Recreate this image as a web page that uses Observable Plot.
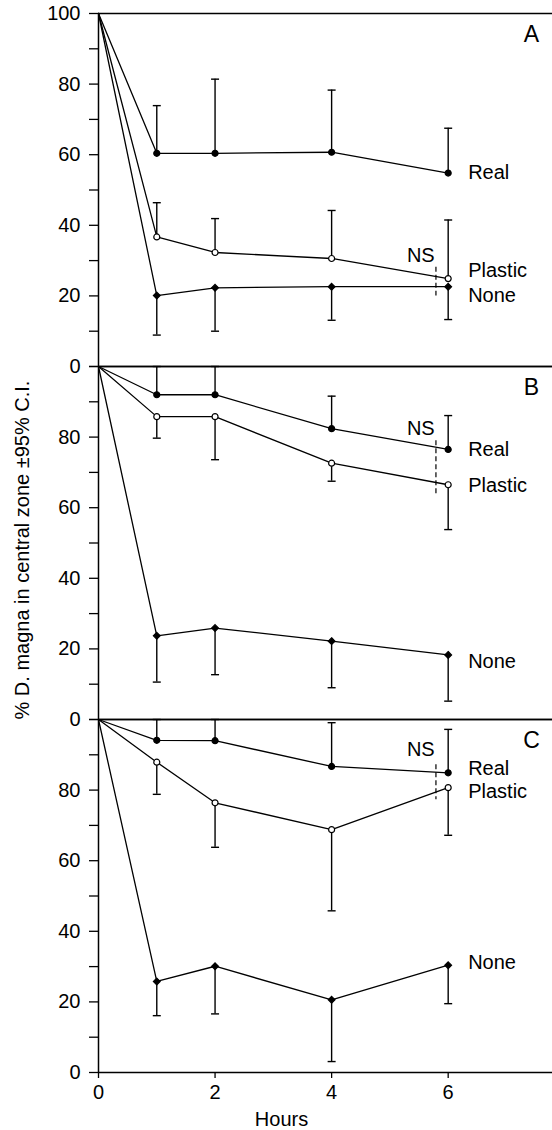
<!DOCTYPE html>
<html><head><meta charset="utf-8">
<script src="https://cdn.jsdelivr.net/npm/d3@7"></script>
<script src="https://cdn.jsdelivr.net/npm/@observablehq/plot@0.6"></script>
<style>body{margin:0;background:#fff;}</style>
</head><body><div id="chart"></div>
<script>
const panels = ["A", "B", "C"];
const seriesNames = ["Real", "Plastic", "None"];
const hours = [0, 1, 2, 4, 6];

// Panel A values and 95% C.I. bar ends
const realA = [100, 60.4, 60.4, 60.7, 54.8];
const realA_ci = [null, 73.9, 81.4, 78.3, 67.5];
const plasticA = [100, 36.7, 32.3, 30.6, 24.9];
const plasticA_ci = [null, 46.4, 41.9, 44.2, 41.5];
const noneA = [100, 20.1, 22.3, 22.6, 22.6];
const noneA_ci = [null, 8.9, 10.0, 13.1, 13.3];

// Panel B
const realB = [100, 92.0, 92.0, 82.4, 76.5];
const realB_ci = [null, 100, 100, 91.6, 86.1];
const plasticB = [100, 85.8, 85.8, 72.6, 66.5];
const plasticB_ci = [null, 79.7, 73.6, 67.5, 53.8];
const noneB = [100, 23.7, 25.9, 22.2, 18.3];
const noneB_ci = [null, 10.6, 12.7, 9.0, 5.2];

// Panel C
const realC = [100, 94.1, 94.0, 86.7, 84.9];
const realC_ci = [null, 100, 100, 99.1, 97.2];
const plasticC = [100, 87.9, 76.4, 68.8, 80.7];
const plasticC_ci = [null, 78.8, 63.8, 45.8, 67.2];
const noneC = [100, 25.8, 30.1, 20.6, 30.4];
const noneC_ci = [null, 16.1, 16.6, 3.1, 19.5];

// series label anchor values (per panel: Real, Plastic, None)
const labelA = [54.8, 27.1, 20.1];
const labelB = [76.4, 66.3, 16.5];
const labelC = [86.1, 79.7, 31.2];

// NS annotations: text position and dashed line extent
const nsTextX = 5.53;
const nsLineX = 5.79;
const nsTextY = [31.4, 82.5, 91.5];
const nsLineY1 = [28.1, 79.0, 87.2];
const nsLineY2 = [20.0, 63.2, 77.3];

// y tick labels per panel
const yTickLabelsA = [100, 80, 60, 40, 20, 0];
const yTickLabelsB = [80, 60, 40, 20, 0];
const yTickLabelsC = [80, 60, 40, 20, 0];
const yTicks = d3.range(0, 101, 10);
const xTicks = [0, 2, 4, 6];

const table = {
  A: {Real: [realA, realA_ci], Plastic: [plasticA, plasticA_ci], None: [noneA, noneA_ci]},
  B: {Real: [realB, realB_ci], Plastic: [plasticB, plasticB_ci], None: [noneB, noneB_ci]},
  C: {Real: [realC, realC_ci], Plastic: [plasticC, plasticC_ci], None: [noneC, noneC_ci]}
};
const rows = [];
for (const p of panels) for (const s of seriesNames) {
  const [vals, ci] = table[p][s];
  hours.forEach((h, i) => rows.push({panel: p, series: s, hour: h, value: vals[i], ci: ci[i]}));
}
const pts = rows.filter(d => d.hour > 0);
const labelRows = [];
[labelA, labelB, labelC].forEach((arr, pi) => seriesNames.forEach((s, si) =>
  labelRows.push({panel: panels[pi], text: s, hour: hours[hours.length - 1], y: arr[si]})));
const nsRows = panels.map((p, i) => ({panel: p, tx: nsTextX, lx: nsLineX, ty: nsTextY[i], y1: nsLineY1[i], y2: nsLineY2[i]}));
const tickLabelRows = [];
[yTickLabelsA, yTickLabelsB, yTickLabelsC].forEach((arr, i) => arr.forEach(v => tickLabelRows.push({panel: panels[i], v})));

const capSymbol = {draw(ctx, size) { const w = Math.sqrt(size / Math.PI); ctx.moveTo(-w, 0); ctx.lineTo(w, 0); }};
const font = "'Liberation Sans', Arial, Helvetica, sans-serif";
const sym = {Real: "circle", Plastic: "circle", None: "diamond2"};

const chart = Plot.plot({
  width: 552,
  height: 1130,
  marginTop: 12,
  marginBottom: 57,
  marginLeft: 98,
  marginRight: 0,
  style: {fontFamily: font, fontSize: "20px", color: "black", background: "white"},
  x: {domain: [0, 7.79]},
  y: {domain: [0, 100]},
  fy: {domain: panels, padding: 0, axis: null},
  marks: [
    Plot.ruleY([100], {stroke: "black", strokeWidth: 1.5}),
    Plot.ruleY([0], {stroke: "black", strokeWidth: 1.5}),
    Plot.ruleX([0], {stroke: "black", strokeWidth: 1.5}),
    Plot.axisY({ticks: yTicks, tickSize: 9, tickFormat: () => "", label: null, strokeWidth: 1.3}),
    Plot.axisX({ticks: xTicks, tickSize: 6, tickPadding: 6, label: null, fontSize: 20, strokeWidth: 1.3}),
    Plot.text(tickLabelRows, {fy: "panel", y: "v", text: d => String(d.v), frameAnchor: "left", dx: -18, textAnchor: "end", fontSize: 20}),
    Plot.ruleX(pts, {fy: "panel", x: "hour", y1: "value", y2: "ci", stroke: "black", strokeWidth: 1.4}),
    Plot.dot(pts, {fy: "panel", x: "hour", y: "ci", symbol: capSymbol, r: 4, stroke: "black", fill: "none", strokeWidth: 1.4}),
    Plot.line(rows, {fy: "panel", x: "hour", y: "value", z: "series", stroke: "black", strokeWidth: 1.3}),
    Plot.dot(pts, {fy: "panel", x: "hour", y: "value", symbol: d => sym[d.series], r: d => d.series === "None" ? 3.7 : 3.6,
      fill: d => d.series === "Plastic" ? "white" : "black", stroke: "black", strokeWidth: 1.2}),
    Plot.text(labelRows, {fy: "panel", x: "hour", y: "y", text: "text", dx: 20, textAnchor: "start", fontSize: 20}),
    Plot.text(nsRows, {fy: "panel", x: "tx", y: "ty", text: () => "NS", fontSize: 20}),
    Plot.ruleX(nsRows, {fy: "panel", x: "lx", y1: "y1", y2: "y2", stroke: "black", strokeWidth: 1.2, strokeDasharray: "5,3"}),
    Plot.text(panels.map(p => ({panel: p})), {fy: "panel", text: "panel", frameAnchor: "top-right", dx: -21, dy: 21, textAnchor: "middle", lineAnchor: "middle", fontSize: 23}),
    Plot.text([{panel: "C", t: "Hours", x: 3.14}], {fy: "panel", x: "x", text: "t", frameAnchor: "bottom", dy: 47, lineAnchor: "middle", fontSize: 20}),
    Plot.text([{panel: "B", t: "% D. magna in central zone ±95% C.I.", y: 48}], {fy: "panel", y: "y", text: "t", frameAnchor: "left", dx: -76, rotate: -90, textAnchor: "middle", lineAnchor: "middle", fontSize: 20})
  ]
});
document.getElementById("chart").appendChild(chart);
</script>
</body></html>
